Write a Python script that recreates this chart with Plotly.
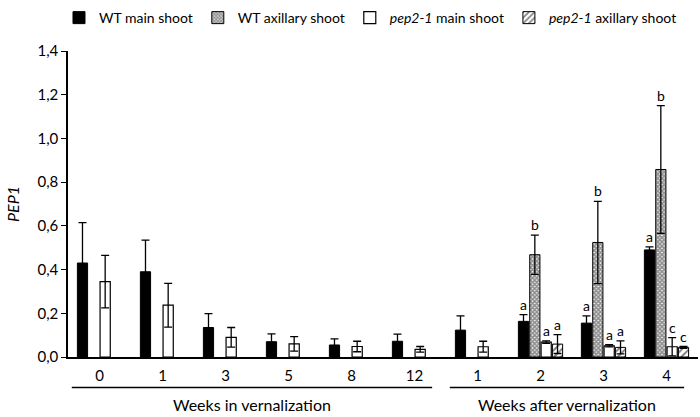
import plotly.graph_objects as go

# ---- data ----
categories = ["0", "1", "3", "5", "8", "12", "1", "2", "3", "4"]
wt_main = [0.43, 0.39, 0.135, 0.07, 0.055, 0.072, 0.123, 0.163, 0.155, 0.49]
wt_main_err = [0.185, 0.145, 0.063, 0.036, 0.028, 0.033, 0.065, 0.031, 0.033, 0.014]
wt_axil = [None, None, None, None, None, None, None, 0.468, 0.524, 0.858]
wt_axil_err = [None, None, None, None, None, None, None, 0.09, 0.188, 0.292]
pep_main = [0.345, 0.237, 0.09, 0.06, 0.048, 0.035, 0.047, 0.068, 0.051, 0.047]
pep_main_err = [0.12, 0.10, 0.045, 0.033, 0.024, 0.013, 0.025, 0.006, 0.005, 0.042]
pep_axil = [None, None, None, None, None, None, None, 0.059, 0.044, 0.044]
pep_axil_err = [None, None, None, None, None, None, None, 0.043, 0.030, 0.004]
letters = {
    7: ["a", "b", "a", "a"],
    8: ["a", "b", "a", "a"],
    9: ["a", "b", "c", "c"],
}
group_labels = ["Weeks in vernalization", "Weeks after vernalization"]
group_spans = [(0, 5), (6, 9)]
yticks = [0, 0.2, 0.4, 0.6, 0.8, 1.0, 1.2, 1.4]

FONT = "Lato, 'Open Sans', sans-serif"
BARGAP = 0.28
GROUPGAP = 0.1
x = list(range(len(categories)))

series = [
    ("WT main shoot", wt_main, wt_main_err, dict(color="black", line=dict(color="black", width=1))),
    ("WT axillary shoot", wt_axil, wt_axil_err,
     dict(color="white", line=dict(color="black", width=1),
          pattern=dict(shape="x", size=3, solidity=0.8, fgcolor="#222222", bgcolor="white", fillmode="overlay"))),
    ("<i>pep2-1</i> main shoot", pep_main, pep_main_err, dict(color="white", line=dict(color="black", width=1.2))),
    ("<i>pep2-1</i> axillary shoot", pep_axil, pep_axil_err,
     dict(color="white", line=dict(color="black", width=1),
          pattern=dict(shape="/", size=5, solidity=0.4, fgcolor="black", bgcolor="white", fillmode="overlay"))),
]

fig = go.Figure()
for name, vals, errs, marker in series:
    fig.add_trace(go.Bar(
        x=x, y=vals, name=name, marker=marker,
        error_y=dict(type="data", array=errs, visible=True, color="black", thickness=1.3, width=4),
    ))

# significance letters
slot = (1 - BARGAP) / 4
ann = []
all_vals = [(wt_main, wt_main_err), (wt_axil, wt_axil_err), (pep_main, pep_main_err), (pep_axil, pep_axil_err)]
for i, labs in letters.items():
    for k, lab in enumerate(labs):
        v, e = all_vals[k][0][i], all_vals[k][1][i]
        ann.append(dict(x=i + (k - 1.5) * slot, y=v + e, xref="x", yref="y", text=lab,
                        showarrow=False, yanchor="bottom", yshift=0,
                        font=dict(family=FONT, size=14, color="black")))

shapes = []
for (a, b), lab in zip(group_spans, group_labels):
    x0, x1 = a - 0.44, b + 0.28
    shapes.append(dict(type="line", xref="x", yref="paper", x0=x0, x1=x1, y0=-0.1, y1=-0.1,
                       line=dict(color="black", width=1.5)))
    ann.append(dict(x=(x0 + x1) / 2, y=-0.155, xref="x", yref="paper", text=lab, showarrow=False,
                    yanchor="middle", font=dict(family=FONT, size=16, color="black")))

fig.update_layout(
    width=700, height=417,
    margin=dict(l=68, r=2, t=47, b=60),
    paper_bgcolor="white", plot_bgcolor="white",
    barmode="group", bargap=BARGAP, bargroupgap=GROUPGAP,
    separators=",.",
    font=dict(family=FONT, size=14, color="black"),
    showlegend=True,
    legend=dict(orientation="h", x=-0.0143, xanchor="left", y=1.16, yanchor="top",
                font=dict(family=FONT, size=14, color="black"), traceorder="normal"),
    annotations=ann, shapes=shapes,
    xaxis=dict(range=[-0.5, len(categories) - 0.5], tickmode="array", tickvals=x, ticktext=categories,
               showline=True, linecolor="black", linewidth=1.5, ticks="outside", ticklen=4,
               tickcolor="white", showgrid=False, zeroline=False,
               tickfont=dict(family=FONT, size=15)),
    yaxis=dict(range=[0, 1.4], tickmode="array", tickvals=yticks, tickformat=".1f",
               showline=True, linecolor="black", linewidth=1.5, ticks="outside", ticklen=5,
               tickwidth=1.2, tickcolor="black", showgrid=False, zeroline=False,
               tickfont=dict(family=FONT, size=15),
               title=dict(text="<i>PEP1</i>", font=dict(family=FONT, size=16), standoff=14)),
)

fig.write_html("out.html", config={"displayModeBar": False},
               post_script="document.body.style.margin='0';")
